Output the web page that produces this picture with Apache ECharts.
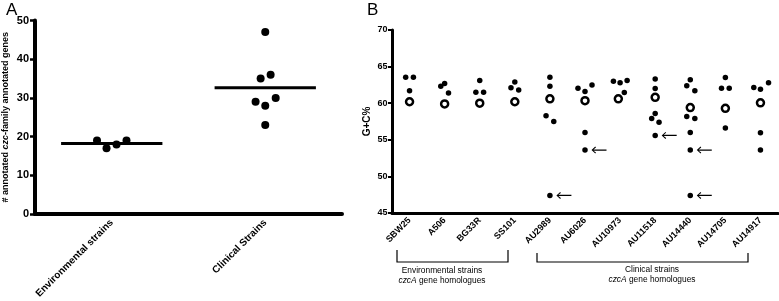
<!DOCTYPE html>
<html>
<head>
<meta charset="utf-8">
<script src="https://cdn.jsdelivr.net/npm/echarts@6/dist/echarts.min.js"></script>
<style>html,body{margin:0;padding:0;background:#fff}#c{width:779px;height:301px}</style>
</head>
<body>
<div id="c"></div>
<script>
// ---- Panel A data ----
const aCategories = ['Environmental strains', 'Clinical Strains'];
const aEnvValues = [19, 17, 18, 19];
const aEnvJitter = [-0.096, -0.034, 0.031, 0.096];
const aClinValues = [47, 35, 36, 29, 30, 28, 23];
const aClinJitter = [0, -0.03, 0.035, -0.063, 0.068, 0, 0];
const aMeans = [18.25, 32.6];
const aYTicks = [0, 10, 20, 30, 40, 50];

// ---- Panel B data ----
const bCategories = ['SBW25','A506','BG33R','SS101','AU2989','AU6026','AU10973','AU11518','AU14440','AU14705','AU14917'];
const bDotValues = [
  [63.55, 63.55, 61.7],
  [62.3, 62.7, 61.4],
  [63.1, 61.5, 61.5],
  [62.9, 62.1, 61.8],
  [63.55, 62.3, 58.3, 57.5, 47.4],
  [62.05, 61.6, 62.5, 56.0, 53.6],
  [63.0, 62.8, 63.1, 61.45],
  [63.3, 62.0, 58.6, 57.9, 57.4, 55.6],
  [63.2, 62.4, 61.7, 58.2, 57.9, 56.0, 53.6, 47.4],
  [63.5, 62.05, 62.05, 56.6],
  [62.15, 61.9, 62.8, 55.95, 53.6]
];
const bDotJitter = [
  [-0.11, 0.11, 0],
  [-0.11, 0, 0.11],
  [0, -0.11, 0.11],
  [0, -0.11, 0.11],
  [0, 0, -0.11, 0.11, 0],
  [-0.2, 0, 0.2, 0, 0],
  [-0.19, 0, 0.2, 0.12],
  [0, 0, 0, -0.1, 0.11, 0],
  [0, -0.1, 0.13, -0.1, 0.13, 0, 0, 0],
  [0, -0.11, 0.11, 0],
  [-0.19, 0, 0.23, 0, 0]
];
const bOpenValues = [60.2, 59.9, 60.0, 60.2, 60.6, 60.35, 60.6, 60.8, 59.4, 59.3, 60.05];
const bOpenJitter = [0, 0, 0, 0, 0, 0, -0.05, 0, 0, 0, 0];
const bArrowCats = ['AU2989', 'AU6026', 'AU11518', 'AU14440', 'AU14440'];
const bArrowValues = [47.4, 53.6, 55.6, 53.6, 47.4];
const bYTicks = [45, 50, 55, 60, 65, 70];

// ---- build ----
const FONT = 'Arial, "Liberation Sans", Helvetica, sans-serif';
const aEnvData = aEnvValues.map((v, i) => [0 + aEnvJitter[i], v]);
const aClinData = aClinValues.map((v, i) => [1 + aClinJitter[i], v]);
const bDotData = [];
bDotValues.forEach((arr, c) => arr.forEach((v, k) => bDotData.push([c + bDotJitter[c][k], v])));
const bOpenData = bOpenValues.map((v, c) => [c + bOpenJitter[c], v]);
const bArrowData = bArrowCats.map((n, i) => [bCategories.indexOf(n), bArrowValues[i]]);
const meanHalf = 0.33;

const arrowPath = 'path://M0,4 L5,0.3 L6,1.3 L2.6,3.3 L20,3.3 L20,4.7 L2.6,4.7 L6,6.7 L5,7.7 Z';

const chart = echarts.init(document.getElementById('c'), null, {renderer: 'canvas'});
chart.setOption({
  backgroundColor: '#fff',
  animation: false,
  textStyle: {fontFamily: FONT},
  title: [
    {text: 'A', left: 1, top: -3, textStyle: {fontSize: 17, fontWeight: 'normal', color: '#000', fontFamily: FONT}},
    {text: 'B', left: 362, top: -3, textStyle: {fontSize: 17, fontWeight: 'normal', color: '#000', fontFamily: FONT}}
  ],
  grid: [
    {left: 34, top: 20.5, width: 308, height: 194},
    {left: 392, top: 30, width: 386, height: 183}
  ],
  xAxis: [
    {
      gridIndex: 0, type: 'category', data: aCategories, boundaryGap: true,
      axisLine: {onZero: false, lineStyle: {color: '#000', width: 4}},
      axisTick: {alignWithLabel: true, length: 5, lineStyle: {color: '#000', width: 3}},
      axisLabel: {rotate: 45, margin: 7, color: '#000', fontSize: 10, fontWeight: 'bold', fontFamily: FONT, interval: 0},
      splitLine: {show: false}
    },
    {gridIndex: 0, type: 'value', min: -0.5, max: 1.5, show: false, axisLine: {onZero: false}},
    {
      gridIndex: 1, type: 'category', data: bCategories, boundaryGap: true,
      axisLine: {onZero: false, lineStyle: {color: '#000', width: 3}},
      axisTick: {alignWithLabel: true, length: 4, lineStyle: {color: '#000', width: 2.5}},
      axisLabel: {rotate: 45, margin: 6, color: '#000', fontSize: 9, fontWeight: 'bold', fontFamily: FONT, interval: 0},
      splitLine: {show: false}
    },
    {gridIndex: 1, type: 'value', min: -0.5, max: 10.5, show: false, axisLine: {onZero: false}}
  ],
  yAxis: [
    {
      gridIndex: 0, type: 'value', min: 0, max: 50, interval: 10,
      name: '# annotated {i|czc}-family annotated genes',
      nameLocation: 'middle', nameGap: 25, nameRotate: 90,
      nameTextStyle: {color: '#000', fontSize: 9, fontWeight: 'bold', fontFamily: FONT,
        rich: {i: {fontStyle: 'italic', fontWeight: 'bold', fontSize: 9, color: '#000', fontFamily: FONT}}},
      axisLine: {show: true, onZero: false, lineStyle: {color: '#000', width: 4}},
      axisTick: {show: true, length: 5, lineStyle: {color: '#000', width: 2.5}},
      axisLabel: {margin: 6, color: '#000', fontSize: 11, fontWeight: 'bold', fontFamily: FONT},
      splitLine: {show: false}
    },
    {
      gridIndex: 1, type: 'value', min: 45, max: 70, interval: 5,
      name: 'G+C%', nameLocation: 'middle', nameGap: 20, nameRotate: 90,
      nameTextStyle: {color: '#000', fontSize: 10, fontWeight: 'bold', fontFamily: FONT},
      axisLine: {show: true, onZero: false, lineStyle: {color: '#000', width: 3}},
      axisTick: {show: true, length: 4, lineStyle: {color: '#000', width: 2}},
      axisLabel: {margin: 4.5, color: '#000', fontSize: 9, fontWeight: 'bold', fontFamily: FONT},
      splitLine: {show: false}
    }
  ],
  series: [
    {type: 'scatter', xAxisIndex: 1, yAxisIndex: 0, data: aEnvData, symbol: 'circle', symbolSize: 8,
      itemStyle: {color: '#000', opacity: 1}},
    {type: 'scatter', xAxisIndex: 1, yAxisIndex: 0, data: aClinData, symbol: 'circle', symbolSize: 8,
      itemStyle: {color: '#000', opacity: 1}},
    {type: 'line', xAxisIndex: 1, yAxisIndex: 0, data: [[0 - meanHalf, aMeans[0]], [0 + meanHalf, aMeans[0]]],
      symbol: 'none', lineStyle: {color: '#000', width: 3}},
    {type: 'line', xAxisIndex: 1, yAxisIndex: 0, data: [[1 - meanHalf, aMeans[1]], [1 + meanHalf, aMeans[1]]],
      symbol: 'none', lineStyle: {color: '#000', width: 3}},
    {type: 'scatter', xAxisIndex: 3, yAxisIndex: 1, data: bDotData, symbol: 'circle', symbolSize: 5.5,
      itemStyle: {color: '#000', opacity: 1}},
    {type: 'scatter', xAxisIndex: 3, yAxisIndex: 1, data: bOpenData, symbol: 'circle', symbolSize: 7,
      itemStyle: {color: '#fff', borderColor: '#000', borderWidth: 2.5, opacity: 1}},
    {type: 'scatter', xAxisIndex: 3, yAxisIndex: 1, data: bArrowData, symbol: arrowPath, symbolSize: [15, 7],
      symbolOffset: [14, 0], symbolKeepAspect: false, itemStyle: {color: '#000', opacity: 1}}
  ],
  graphic: [
    {type: 'polyline', shape: {points: [[397, 250], [397, 262], [508, 262], [508, 250]]},
      style: {stroke: '#000', lineWidth: 1.2, fill: null}},
    {type: 'polyline', shape: {points: [[537, 253], [537, 262], [748, 262], [748, 253]]},
      style: {stroke: '#000', lineWidth: 1.2, fill: null}},
    {type: 'text', x: 442, y: 271, style: {text: 'Environmental strains', align: 'center', verticalAlign: 'middle',
      font: '8.4px ' + FONT, fill: '#000'}},
    {type: 'text', x: 442, y: 281, style: {text: '{i|czcA} gene homologues', align: 'center', verticalAlign: 'middle',
      font: '8.4px ' + FONT, fill: '#000', rich: {i: {fontStyle: 'italic', fontSize: 8.4, fontFamily: FONT, fill: '#000'}}}},
    {type: 'text', x: 652, y: 270, style: {text: 'Clinical strains', align: 'center', verticalAlign: 'middle',
      font: '8.4px ' + FONT, fill: '#000'}},
    {type: 'text', x: 652, y: 280, style: {text: '{i|czcA} gene homologues', align: 'center', verticalAlign: 'middle',
      font: '8.4px ' + FONT, fill: '#000', rich: {i: {fontStyle: 'italic', fontSize: 8.4, fontFamily: FONT, fill: '#000'}}}}
  ]
});
</script>
</body>
</html>
